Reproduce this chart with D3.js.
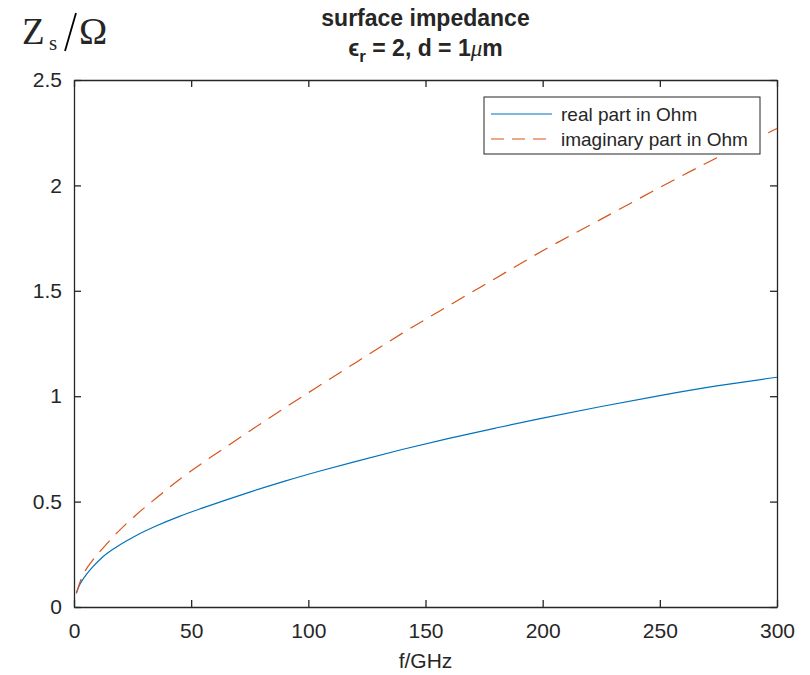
<!DOCTYPE html>
<html>
<head>
<meta charset="utf-8">
<script src="https://cdn.jsdelivr.net/npm/d3@7"></script>
<style>
  body { margin: 0; background: #fff; }
  text { font-family: "Liberation Sans", Arial, sans-serif; fill: #262626; }
</style>
</head>
<body>
<svg id="chart"></svg>
<script>
// values
var freq      = [1, 2, 3, 5, 8, 12, 18, 26, 35, 45, 55, 65, 75, 90, 105, 120, 140, 160, 180, 200, 225, 250, 275, 300];
var realPart  = [0.065, 0.095, 0.117, 0.15, 0.19, 0.235, 0.284, 0.336, 0.384, 0.43, 0.47, 0.508, 0.545, 0.597, 0.645, 0.69, 0.747, 0.8, 0.849, 0.896, 0.951, 1.003, 1.05, 1.09];
var imagPart  = [0.065, 0.10, 0.13, 0.175, 0.222, 0.275, 0.348, 0.432, 0.516, 0.605, 0.685, 0.76, 0.835, 0.945, 1.052, 1.158, 1.298, 1.43, 1.56, 1.69, 1.84, 1.99, 2.135, 2.27];
var xTicks = [0, 50, 100, 150, 200, 250, 300];
var yTicks = [0, 0.5, 1, 1.5, 2, 2.5];
var seriesNames = ["real part in Ohm", "imaginary part in Ohm"];

var width = 810, height = 675;
var mLeft = 74, mRight = 777, mTop = 80, mBottom = 607;
var blue = "#0072BD", orange = "#D95319", axisCol = "#262626";

var svg = d3.select("#chart").attr("width", width).attr("height", height);

var x = d3.scaleLinear().domain([0, 300]).range([mLeft, mRight]);
var y = d3.scaleLinear().domain([0, 2.5]).range([mBottom, mTop]);

// axes, MATLAB style with inward ticks on all four sides
var tickLen = 7;
svg.append("g").attr("transform", "translate(0," + mBottom + ")")
    .call(d3.axisBottom(x).tickValues(xTicks).tickSizeInner(-tickLen).tickSizeOuter(0).tickPadding(16).tickFormat(d3.format("d")));
svg.append("g").attr("transform", "translate(0," + mTop + ")")
    .call(d3.axisTop(x).tickValues(xTicks).tickSizeInner(-tickLen).tickSizeOuter(0).tickFormat(""));
svg.append("g").attr("transform", "translate(" + mLeft + ",0)")
    .call(d3.axisLeft(y).tickValues(yTicks).tickSizeInner(-tickLen).tickSizeOuter(0).tickPadding(12).tickFormat(function(d) { return d; }));
svg.append("g").attr("transform", "translate(" + mRight + ",0)")
    .call(d3.axisRight(y).tickValues(yTicks).tickSizeInner(-tickLen).tickSizeOuter(0).tickFormat(""));

svg.selectAll(".domain").attr("stroke", axisCol).attr("stroke-width", 1.3);
svg.selectAll(".tick line").attr("stroke", axisCol).attr("stroke-width", 1.3);
svg.selectAll(".tick text").style("font-size", "21px").attr("fill", axisCol);

// data lines
var rows = freq.map(function(f, i) { return { f: f, re: realPart[i], im: imagPart[i] }; });

var lineRe = d3.line().x(function(d) { return x(d.f); }).y(function(d) { return y(d.re); }).curve(d3.curveMonotoneX);
var lineIm = d3.line().x(function(d) { return x(d.f); }).y(function(d) { return y(d.im); }).curve(d3.curveMonotoneX);

svg.append("path").datum(rows).attr("d", lineRe)
    .attr("fill", "none").attr("stroke", blue).attr("stroke-width", 1.2);
svg.append("path").datum(rows).attr("d", lineIm)
    .attr("fill", "none").attr("stroke", orange).attr("stroke-width", 1.2)
    .attr("stroke-dasharray", "15,9");

// legend
var legend = svg.append("g");
legend.append("rect").attr("x", 484).attr("y", 97).attr("width", 276).attr("height", 57)
    .attr("fill", "#fff").attr("stroke", axisCol).attr("stroke-width", 1);
var legColors = [blue, orange];
var legDash = [null, "13,8"];
seriesNames.forEach(function(name, i) {
    var ly = 114 + i * 25;
    legend.append("line").attr("x1", 491).attr("x2", 552).attr("y1", ly).attr("y2", ly)
        .attr("stroke", legColors[i]).attr("stroke-width", 1.2).attr("stroke-dasharray", legDash[i]);
    legend.append("text").attr("x", 561).attr("y", ly).attr("dy", "0.35em")
        .style("font-size", "19px").text(name);
});

// title
var cx = (mLeft + mRight) / 2;
svg.append("text").attr("x", cx).attr("y", 26).attr("text-anchor", "middle")
    .style("font-size", "23px").style("font-weight", "bold").text("surface impedance");
var t2 = svg.append("text").attr("x", cx).attr("y", 56).attr("text-anchor", "middle")
    .style("font-size", "23px").style("font-weight", "bold");
t2.append("tspan").text("\u03F5");
t2.append("tspan").attr("dy", 6).style("font-size", "17px").text("r");
t2.append("tspan").attr("dy", -6).text(" = 2, d = 1");
t2.append("tspan").style("font-family", "'Liberation Serif', serif").style("font-style", "italic").style("font-weight", "normal").text("\u03BC");
t2.append("tspan").text("m");

// x label
svg.append("text").attr("x", cx).attr("y", 668).attr("text-anchor", "middle")
    .style("font-size", "21px").text("f/GHz");

// y label at top-left, in serif like the TeX rendering
var serif = "'Liberation Serif', 'Times New Roman', serif";
svg.append("text").attr("x", 22).attr("y", 44).style("font-family", serif).style("font-size", "37px").text("Z");
svg.append("text").attr("x", 49).attr("y", 50).style("font-family", serif).style("font-size", "21px").text("s");
svg.append("line").attr("x1", 76).attr("y1", 13).attr("x2", 65).attr("y2", 51)
    .attr("stroke", "#000").attr("stroke-width", 1.8);
svg.append("text").attr("x", 79).attr("y", 44).style("font-family", serif).style("font-size", "38px").text("\u03A9");
</script>
</body>
</html>
